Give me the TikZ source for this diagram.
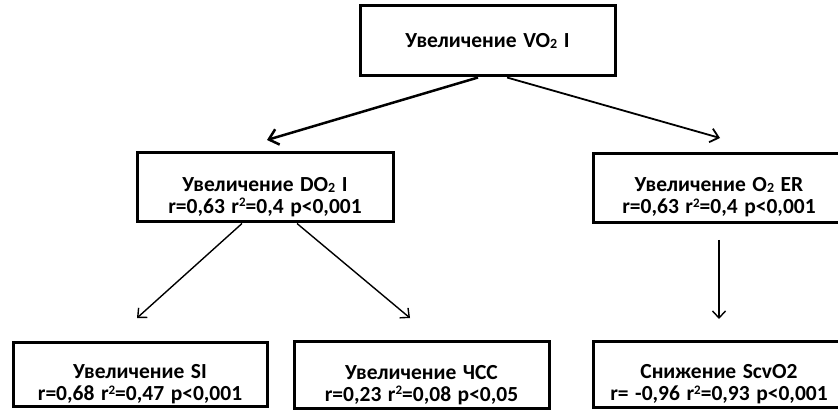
\documentclass[tikz,border=0pt]{standalone}
\usepackage{fontspec}
\setmainfont{Carlito}[WordSpace=1.35]
\usetikzlibrary{arrows.meta,calc}
\newcommand{\subtwo}{{\fontsize{14}{14}\selectfont\raisebox{-1pt}{2}}}
\newcommand{\suptwo}{\raisebox{6.5pt}{\fontsize{13}{13}\selectfont 2}}
\newcommand{\dnm}{\rule{0pt}{33pt}}
\newcommand{\dnb}{\rule{0pt}{35pt}}
\begin{document}
\begin{tikzpicture}[x=1pt,y=-1pt,
  box/.style={draw, line width=3pt, rectangle, align=center, inner sep=0pt,
    font=\fontsize{21.5}{22}\selectfont\bfseries},
  conn/.style={-{Straight Barb[length=7pt,width=13pt]}, line width=1.4pt},
  connthick/.style={-{Straight Barb[length=9pt,width=16pt]}, line width=2.5pt},
  connmid/.style={-{Straight Barb[length=8pt,width=14pt]}, line width=1.8pt}
]
\useasboundingbox (0,0) rectangle (838,414);
\clip (0,0) rectangle (838,414);
\node[box, minimum width=255pt, minimum height=70pt] (top) at (487.5,41) {Увеличение VO\subtwo{} I};
\node[box, minimum width=256pt, minimum height=69pt] (ml) at (265,187.5) {\dnm Увеличение DO\subtwo{} I\\r=0,63 r\suptwo=0,4 p<0,001};
\node[box, minimum width=252pt, minimum height=69pt] (mr) at (719,188) {\dnm Увеличение O\subtwo{} ER\\r=0,63 r\suptwo=0,4 p<0,001};
\node[box, minimum width=254pt, minimum height=64pt] (b1) at (140,374) {\dnb Увеличение SI\\r=0,68 r\suptwo=0,47 p<0,001};
\node[box, minimum width=255pt, minimum height=67pt] (b2) at (421.5,374.5) {\dnb Увеличение ЧСС\\r=0,23 r\suptwo=0,08 p<0,05};
\node[box, minimum width=252pt, minimum height=66pt] (b3) at (719,374) {\dnb Снижение ScvO2\\r= -0,96 r\suptwo=0,93 p<0,001};
\coordinate (t1) at (267,140);
\coordinate (t2) at (720,138);
\coordinate (t3) at (137,318);
\coordinate (t4) at (410,318);
\coordinate (t5) at (719,319);
\draw[connthick] ($(top.south)+(-9.5,0)$) -- (t1);
\draw[connmid] ($(top.south)+(19.5,0)$) -- (t2);
\draw[conn] ($(ml.south)+(-23,0)$) -- (t3);
\draw[conn] ($(ml.south)+(32,0)$) -- (t4);
\draw[conn] ($(mr.south)+(0,16)$) -- (t5);
\end{tikzpicture}
\end{document}
